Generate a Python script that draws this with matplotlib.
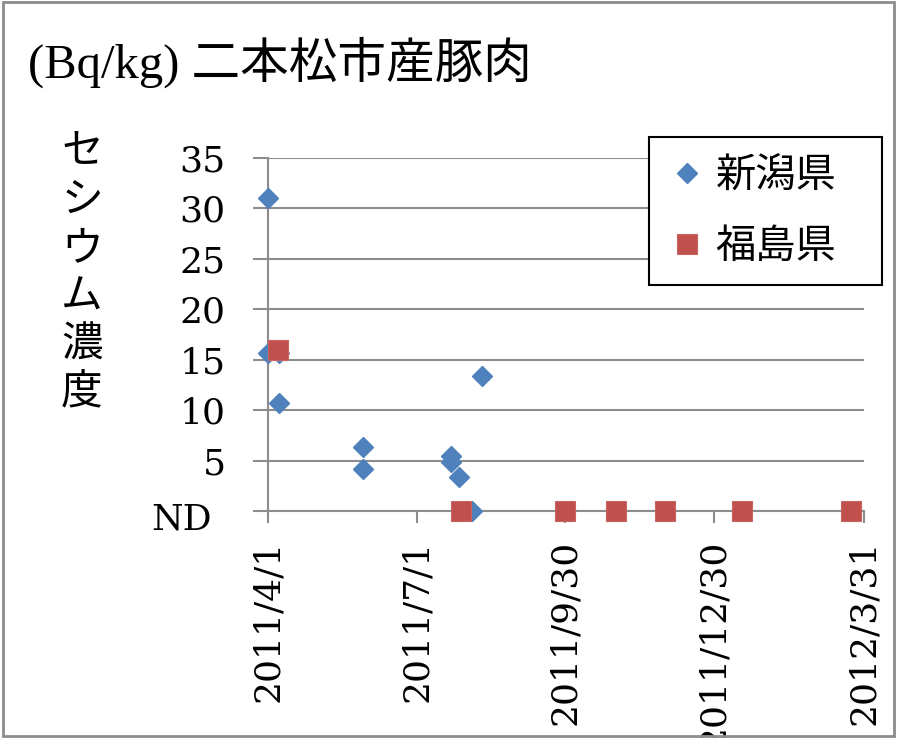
import matplotlib
matplotlib.use("Agg")
import matplotlib.pyplot as plt
import matplotlib.transforms as mtransforms
from matplotlib.patches import Rectangle
from datetime import date

plt.rcParams['font.family'] = ['DejaVu Serif', 'Noto Sans CJK JP']

# 新潟県 (blue diamonds)
niigata_dates = ["2011-04-01", "2011-04-01", "2011-04-08", "2011-04-08", "2011-05-29",
                 "2011-05-29", "2011-07-22", "2011-07-22", "2011-07-27", "2011-08-04",
                 "2011-08-10"]
niigata_vals = [31.0, 15.7, 15.7, 10.7, 6.3, 4.2, 5.5, 4.9, 3.4, 0.0, 13.4]

# 福島県 (red squares)
fukushima_dates = ["2011-04-07", "2011-07-28", "2011-09-30", "2011-10-31",
                   "2011-11-30", "2012-01-16", "2012-03-23"]
fukushima_vals = [16.0, 0.0, 0.0, 0.0, 0.0, 0.0, 0.0]

xtick_dates = ["2011-04-01", "2011-07-01", "2011-09-30", "2011-12-30", "2012-03-31"]
xtick_labels = ["2011/4/1", "2011/7/1", "2011/9/30", "2011/12/30", "2012/3/31"]
ytick_vals = [0, 5, 10, 15, 20, 25, 30, 35]
ytick_labels = ["ND", "5", "10", "15", "20", "25", "30", "35"]

title = "(Bq/kg) 二本松市産豚肉"
ylabel = "セシウム濃度"
series_names = ["新潟県", "福島県"]


def to_dates(lst):
    return [date.fromisoformat(s) for s in lst]


blue = "#4F81BD"
red = "#C0504D"
grid_col = "#8C8C8C"

fig = plt.figure(figsize=(8.97, 7.38), dpi=100)
ax = fig.add_axes([268/897, 1 - 511/738, (864-268)/897, (511-158)/738])

ax.plot(to_dates(niigata_dates), niigata_vals, linestyle="none", marker="D",
        markersize=10, color=blue, markeredgecolor=blue, clip_on=False, zorder=3,
        label=series_names[0])
ax.plot(to_dates(fukushima_dates), fukushima_vals, linestyle="none", marker="s",
        markersize=14, color=red, markeredgecolor="#C86560", markeredgewidth=0.8,
        clip_on=False, zorder=4, label=series_names[1])

ax.set_xlim(date(2011, 4, 1), date(2012, 3, 31))
ax.set_ylim(0, 35)
ax.set_xticks(to_dates(xtick_dates))
ax.set_xticklabels(xtick_labels, rotation=90, fontsize=26, va="top", ha="center")
ax.set_yticks(ytick_vals)
# the ND label is drawn separately: it sits lower and further left in the original
ax.set_yticklabels([""] + ytick_labels[1:], fontsize=26)
nd_trans = ax.get_yaxis_transform() + mtransforms.ScaledTranslation(-0.56, -0.09, fig.dpi_scale_trans)
ax.text(0, ytick_vals[0], ytick_labels[0], transform=nd_trans, fontsize=26,
        ha="right", va="center")

ax.tick_params(axis="x", direction="out", length=8.5, width=1.5, color=grid_col, pad=12)
ax.tick_params(axis="y", direction="out", length=10.5, width=1.5, color=grid_col, pad=20)
ax.grid(axis="y", color=grid_col, linewidth=1.5)
ax.set_axisbelow(True)
for s in ["top", "right"]:
    ax.spines[s].set_visible(False)
for s in ["left", "bottom"]:
    ax.spines[s].set_color(grid_col)
    ax.spines[s].set_linewidth(1.5)

fig.text(28/897, 1 - 62/738, title, fontsize=35, va="center", ha="left",
         family=["Liberation Serif", "Noto Sans CJK JP"])
fig.text(82/897, 1 - 131/738, "\n".join(ylabel), fontsize=30, va="top", ha="center",
         linespacing=1.23, family=["Noto Sans CJK JP", "DejaVu Sans"])

leg = ax.legend(loc="upper left", bbox_to_anchor=(649/897, 1 - 284/738, 233/897, 147/738),
                bbox_transform=fig.transFigure, mode="expand", borderaxespad=0,
                frameon=True, fancybox=False, edgecolor="black", framealpha=1,
                prop={"family": ["Noto Sans CJK JP"], "size": 29},
                markerscale=1.0, handlelength=1.0, handletextpad=0.2,
                borderpad=0.45, labelspacing=0.75)
leg.get_frame().set_linewidth(1.5)

fig.patches.append(Rectangle((0.003, 0.003), 0.994, 0.994, transform=fig.transFigure,
                             fill=False, edgecolor="#8C8C8C", linewidth=2))

fig.savefig("out.png", dpi=100)
